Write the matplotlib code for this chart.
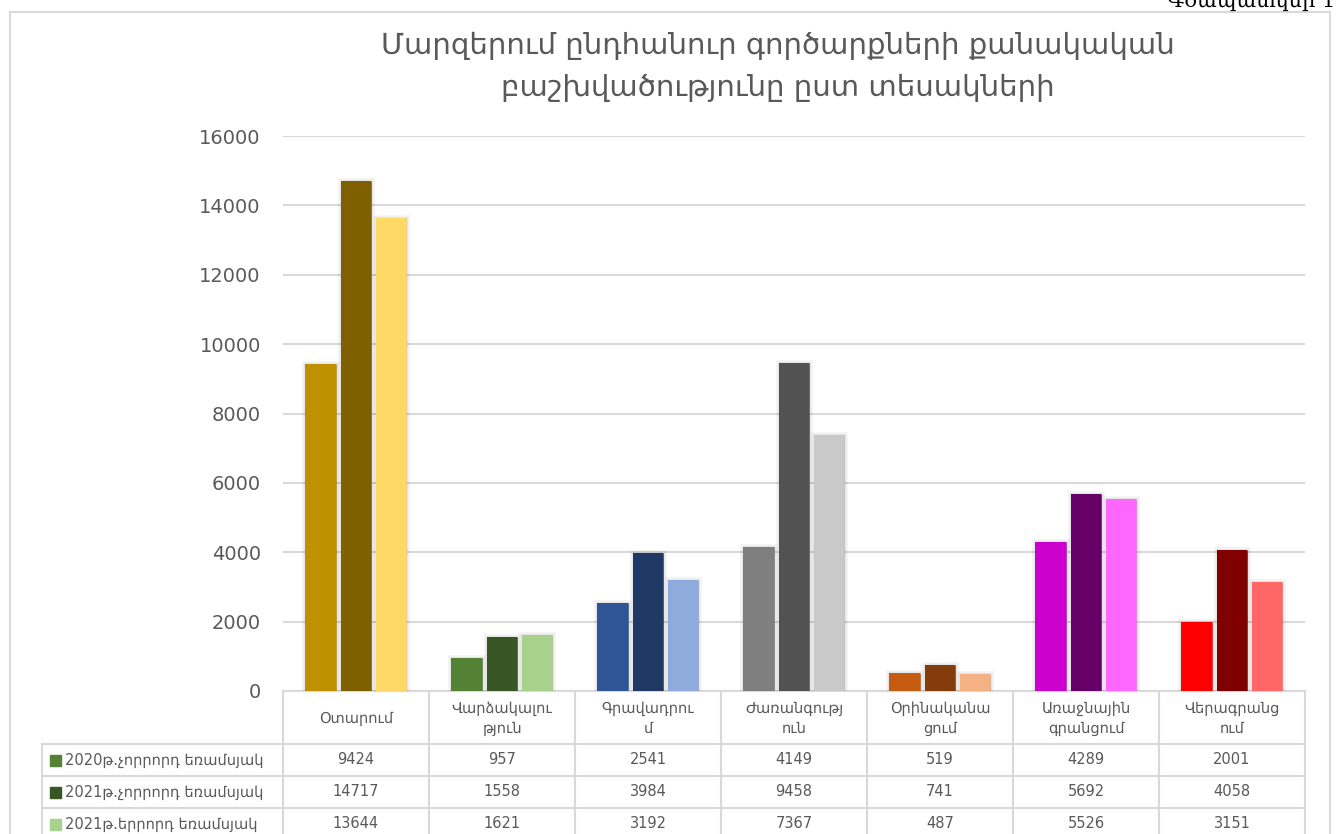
import matplotlib
matplotlib.use("Agg")
import matplotlib.pyplot as plt
import matplotlib.patheffects as pe
import numpy as np

# ---- data ----
categories = ["Օտարում", "Վարձակալու\nթյուն", "Գրավադրու\nմ", "Ժառանգությ\nուն",
              "Օրինականա\nցում", "Առաջնային\nգրանցում", "Վերագրանց\nում"]
series_names = ["2020թ.չորրորդ եռամսյակ", "2021թ.չորրորդ եռամսյակ", "2021թ.երրորդ եռամսյակ"]
q4_2020 = [9424, 957, 2541, 4149, 519, 4289, 2001]
q4_2021 = [14717, 1558, 3984, 9458, 741, 5692, 4058]
q3_2021 = [13644, 1621, 3192, 7367, 487, 5526, 3151]
values = [q4_2020, q4_2021, q3_2021]

# per-category colours (dark-ish, darkest, light)
cat_colors = [
    ["#BF9000", "#7F6000", "#FFD966"],
    ["#548235", "#375623", "#A9D18E"],
    ["#2F5597", "#1F3864", "#8FAADC"],
    ["#7F7F7F", "#525252", "#C9C9C9"],
    ["#C55A11", "#843C0C", "#F4B183"],
    ["#CC00CC", "#660066", "#FF66FF"],
    ["#FF0000", "#800000", "#FF6666"],
]
legend_colors = ["#548235", "#375623", "#A9D18E"]
yticks = [0, 2000, 4000, 6000, 8000, 10000, 12000, 14000, 16000]
title = "Մարզերում ընդհանուր գործարքների քանակական\nբաշխվածությունը ըստ տեսակների"

plt.rcParams['font.family'] = ['DejaVu Sans']
TXT = "#595959"
GRID = "#D9D9D9"

W, H = 1338, 834
fig = plt.figure(figsize=(W / 100, H / 100), dpi=100)
fig.patch.set_facecolor("white")

# overlay axes in pixel coordinates for frame + table
ov = fig.add_axes([0, 0, 1, 1])
ov.set_xlim(0, W)
ov.set_ylim(H, 0)
ov.axis("off")

# frame
ov.plot([10, 1330, 1330], [12, 12, H + 5], color=GRID, lw=1.5, clip_on=False)
ov.plot([10, 10], [12, H + 5], color=GRID, lw=1.5, clip_on=False)

# cut-off label at top right (partially outside the page, as in the source)
ov.text(1335, 1, "Գծապատկեր 1", ha="right", va="center", fontsize=15,
        family=["DejaVu Serif"], color="black")

# plot area
L, R, T, B = 283, 1305, 136, 691
ax = fig.add_axes([L / W, 1 - B / H, (R - L) / W, (B - T) / H])
ax.set_facecolor("none")
ax.set_xlim(0, len(categories))
ax.set_ylim(0, 16000)
for s in ax.spines.values():
    s.set_visible(False)
ax.set_yticks(yticks)
ax.set_yticklabels([str(v) for v in yticks], fontsize=14, color=TXT)
ax.tick_params(axis="y", length=0, pad=16)
ax.set_xticks([])
ax.grid(axis="y", color=GRID, lw=1.5)
ax.set_axisbelow(True)

bw = 0.21
offs = [-0.245, 0.0, 0.24]
x = np.arange(len(categories)) + 0.5
for j in range(3):
    cols = [cat_colors[i][j] for i in range(len(categories))]
    bars = ax.bar(x + offs[j], values[j], width=bw, color=cols, zorder=3)
    for b in bars:
        b.set_path_effects([
            pe.Stroke(linewidth=5, foreground=(0, 0, 0, 0.04)),
            pe.Stroke(linewidth=2.5, foreground=(0, 0, 0, 0.06)),
            pe.Normal()])

# title
fig.text(778 / W, 1 - 67 / H, title, ha="center", va="center", fontsize=21,
         color=TXT, linespacing=1.6)

# ---- data table ----
colw = (R - L) / len(categories)
rows_y = [691, 744, 776, 808, 840]
lab_left = 42
# vertical lines
for i in range(len(categories) + 1):
    xx = L + i * colw
    ov.plot([xx, xx], [rows_y[0], H + 5], color=GRID, lw=1.5, clip_on=False)
ov.plot([lab_left, lab_left], [rows_y[1], H + 5], color=GRID, lw=1.5, clip_on=False)
# horizontal lines
ov.plot([L, R], [rows_y[0], rows_y[0]], color=GRID, lw=1.5)
for yy in rows_y[1:4]:
    ov.plot([lab_left, R], [yy, yy], color=GRID, lw=1.5)

# header
for i, c in enumerate(categories):
    ov.text(L + (i + 0.5) * colw, (rows_y[0] + rows_y[1]) / 2 + 1, c, ha="center", va="center",
            fontsize=10.5, color=TXT, linespacing=1.4)

# rows
for r in range(3):
    yc = (rows_y[r + 1] + rows_y[r + 2]) / 2
    ov.add_patch(plt.Rectangle((50, yc - 5.5), 11, 11, color=legend_colors[r]))
    ov.text(65, yc, series_names[r], ha="left", va="center", fontsize=10.5, color=TXT)
    for i in range(len(categories)):
        ov.text(L + (i + 0.5) * colw, yc, str(values[r][i]), ha="center", va="center",
                fontsize=10.5, color=TXT)

fig.savefig("out.png", dpi=100)
